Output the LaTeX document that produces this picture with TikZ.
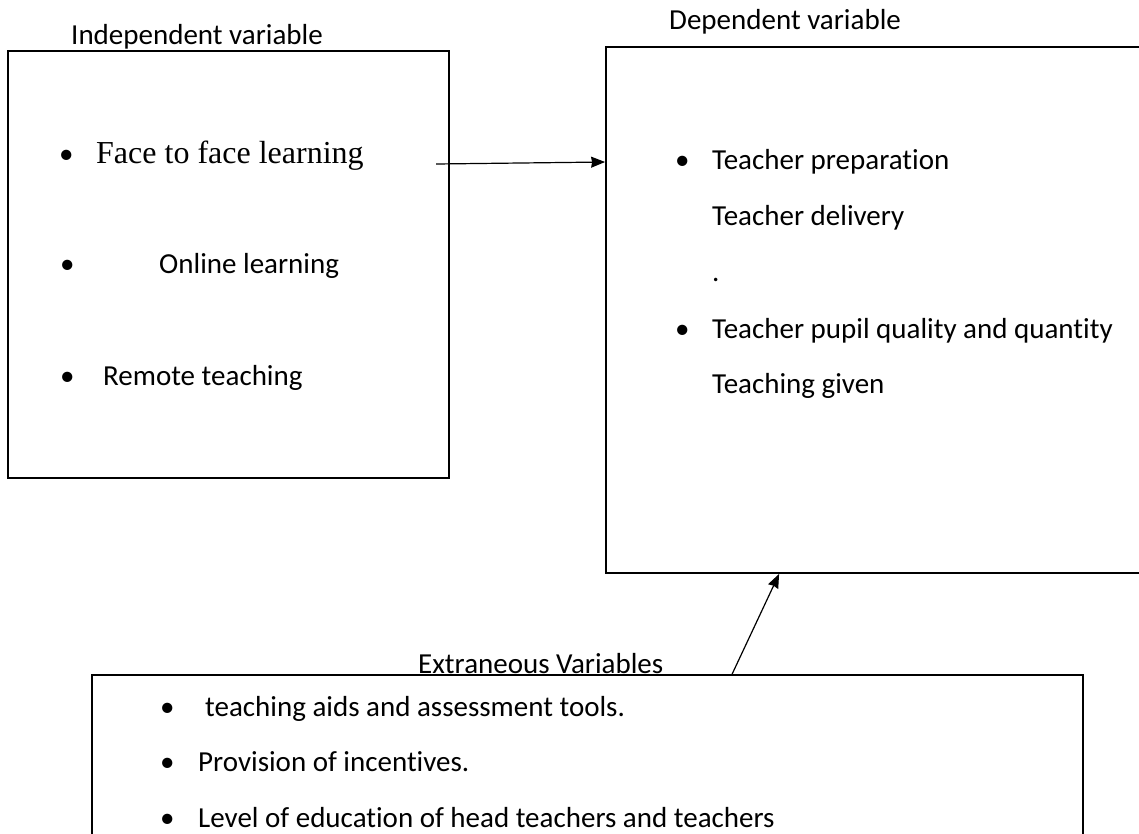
\documentclass[tikz,border=0pt]{standalone}
\usepackage{fontspec}
\setmainfont{Carlito}[Ligatures=CommonOff]
\newfontfamily\timesfont{Liberation Serif}
\usetikzlibrary{arrows.meta}

\tikzset{
  box/.style={draw, line width=1.8pt, inner sep=0pt},
  txt/.style={anchor=base west, inner sep=0pt, font=\fontsize{29}{34}\selectfont},
  link/.style={-{Stealth[length=14pt, width=11pt, inset=1pt]}, line width=1.2pt}
}

\begin{document}
\begin{tikzpicture}[x=1pt, y=-1pt]
            \useasboundingbox (0,0) rectangle (1139,833);
            \clip (0,0) rectangle (1139,833);
            \node[box, minimum width=441, minimum height=427] (ind) at (228.5,264.5) {};
            \node[box, minimum width=544, minimum height=526] (dep) at (878,310) {};
            \node[box, minimum width=991, minimum height=170] (ext) at (587.5,760) {};
            \node[txt] (indlabel) at (71,44) {Independent variable};
            \node[txt] (deplabel) at (669,29) {Dependent variable};
            \node[txt] (extlabel) at (418,673) {Extraneous Variables};
            \foreach \x/\y [count=\i] in {59/163, 60/273, 60/385, 675/169.5, 675/338, 160/716, 160/771, 160/827}
                \node[txt] (bul\i) at (\x,\y) {\textbullet};
            \node[txt, font=\timesfont\fontsize{32}{38}\selectfont] (face) at (96,163) {Face to face learning};
            \node[txt] (online) at (159,273) {Online learning};
            \node[txt] (remote) at (103,385) {Remote teaching};
            \node[txt] (prep) at (712,169.5) {Teacher preparation};
            \node[txt] (deliv) at (712,225) {Teacher delivery};
            \node[txt] (dot) at (712,281) {.};
            \node[txt] (pupil) at (712,338) {Teacher pupil quality and quantity};
            \node[txt] (given) at (712,393) {Teaching given};
            \node[txt] (aids) at (205,716) {teaching aids and assessment tools.};
            \node[txt] (incent) at (198,771) {Provision of incentives.};
            \node[txt] (level) at (198,827) {Level of education of head teachers and teachers};
            \coordinate (indout) at (436,164);
            \coordinate (extout) at ([xshift=641pt]ext.north west);
            \draw[link] (indout) -- ([yshift=2pt]indout -| dep.west);
            \draw[link] (extout) -- ([xshift=174pt]dep.south west);
        \end{tikzpicture}
\end{document}
